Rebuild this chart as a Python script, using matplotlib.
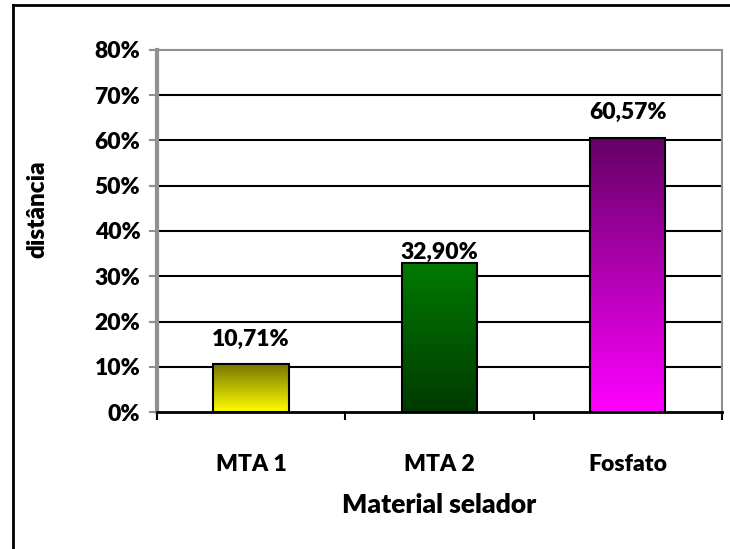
import numpy as np
import matplotlib.pyplot as plt
from matplotlib.colors import LinearSegmentedColormap
from matplotlib.lines import Line2D

# data
categories = ['MTA 1', 'MTA 2', 'Fosfato']
values = [10.71, 32.90, 60.57]
labels = ['10,71%', '32,90%', '60,57%']
yticks = [0, 10, 20, 30, 40, 50, 60, 70, 80]

# gradient colours per bar (top, bottom)
grads = [('#747400', '#ffff00'), ('#007a00', '#003a00'), ('#660066', '#ff00ff')]
label_offsets = [10, 0, 11]

plt.rcParams['font.family'] = ['Lato', 'DejaVu Sans']
W = 'heavy'

fig = plt.figure(figsize=(7.3, 5.49), dpi=100)
ax = fig.add_axes([0.215, 0.2495, 0.774, 0.6595])

x = np.arange(len(categories))
bars = ax.bar(x, values, width=0.4, color='none', edgecolor='black', linewidth=1.5, zorder=3)

for b, (top, bot) in zip(bars, grads):
    cmap = LinearSegmentedColormap.from_list('g', [bot, top])
    grad = np.linspace(0, 1, 256).reshape(-1, 1)
    im = ax.imshow(grad, cmap=cmap, origin='lower', aspect='auto', zorder=2,
                   extent=[b.get_x(), b.get_x() + b.get_width(), 0, b.get_height()])
    im.set_clip_path(b)

for xi, v, lab, off in zip(x, values, labels, label_offsets):
    ax.annotate(lab, (xi, v), xytext=(0, off), textcoords='offset points',
                ha='center', va='bottom', fontsize=16.5, fontweight=W)

ax.set_xlim(-0.5, 2.5)
ax.set_ylim(0, 80)
ax.set_yticks(yticks)
ax.set_yticklabels([f'{t}%' for t in yticks], fontsize=16.5, fontweight=W)
ax.set_xticks(x)
ax.set_xticklabels(categories, fontsize=16.5, fontweight=W)
ax.set_xticks([-0.5, 0.5, 1.5, 2.5], minor=True)
ax.tick_params(axis='x', which='major', length=0, pad=30)
ax.tick_params(axis='x', which='minor', length=6, width=1.5, color='black', direction='out')
ax.tick_params(axis='y', length=6, width=1.5, color='#909090', pad=6)

for t in yticks[1:-1]:
    ax.axhline(t, color='black', linewidth=1.5, zorder=1)

for s in ['left', 'top', 'right']:
    ax.spines[s].set_color('#909090')
ax.spines['left'].set_linewidth(3)
ax.spines['top'].set_linewidth(1.5)
ax.spines['right'].set_linewidth(1.5)
ax.spines['bottom'].set_color('black')
ax.spines['bottom'].set_linewidth(2)

ax.set_xlabel('Material selador', fontsize=19, fontweight=W, labelpad=13)
ax.set_ylabel('distância', fontsize=17.5, fontweight=W)
ax.yaxis.set_label_coords(-0.193, 0.56)

# outer chart border (only left/top visible)
fig.add_artist(Line2D([13 / 730, 13 / 730], [0, 1 - 5 / 549], color='black', linewidth=2))
fig.add_artist(Line2D([13 / 730, 1.01], [1 - 5 / 549, 1 - 5 / 549], color='black', linewidth=2))

fig.savefig('out.png', dpi=100)
